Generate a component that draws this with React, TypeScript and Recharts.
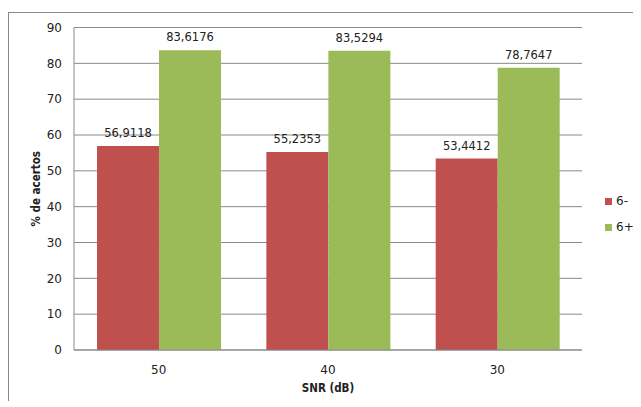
import React from 'react';
import {
  BarChart,
  Bar,
  CartesianGrid,
  XAxis,
  YAxis,
  Label,
  LabelList,
} from 'recharts';

const snrLevels = ['50', '40', '30'];
const lowScores = [56.9118, 55.2353, 53.4412];
const highScores = [83.6176, 83.5294, 78.7647];
const yTicks = [0, 10, 20, 30, 40, 50, 60, 70, 80, 90];

const series = [
  { key: 'low', name: '6-', color: '#C0504D' },
  { key: 'high', name: '6+', color: '#9BBB59' },
];

const data = snrLevels.map((snr, i) => ({
  snr,
  low: lowScores[i],
  high: highScores[i],
}));

const FONT = '"DejaVu Sans", Verdana, sans-serif';
const GRID = '#898989';

const fmt = (v: any) => String(v).replace('.', ',');

function YTitle(props: any) {
  const vb = props.viewBox || {};
  const x = vb.x + 7;
  const y = vb.y + vb.height / 2;
  return (
    <text
      x={x}
      y={y}
      transform={`rotate(-90 ${x} ${y})`}
      textAnchor="middle"
      dominantBaseline="central"
      fontFamily='"DejaVu Sans Condensed", "DejaVu Sans", sans-serif'
      fontWeight="bold"
      fontSize={11.5}
      fill="#222"
    >
      % de acertos
    </text>
  );
}

// legend sits to the right of the plot, like the excel one
function LegendBox() {
  return (
    <div
      style={{
        position: 'absolute',
        left: 596,
        top: 181,
        fontFamily: FONT,
        fontSize: 12,
        color: '#222',
      }}
    >
      {series.map((s) => (
        <div
          key={s.key}
          style={{ display: 'flex', alignItems: 'center', height: 14, marginBottom: 12 }}
        >
          <span
            style={{ width: 7, height: 7, background: s.color, marginRight: 4, display: 'inline-block' }}
          />
          <span>{s.name}</span>
        </div>
      ))}
    </div>
  );
}

export default function App() {
  return (
    <>
      <style>{'body{overflow:hidden}'}</style>
      <div
        style={{
          position: 'relative',
          top: 4,
          width: 640,
          height: 392,
          borderTop: `1px solid ${GRID}`,
          borderLeft: `1px solid ${GRID}`,
          background: '#fff',
        }}
      >
        <BarChart
          width={632}
          height={392}
          data={data}
          margin={{ top: 14.5, right: 59, left: 20, bottom: 12 }}
          barCategoryGap="13.6%"
          barGap={0}
          style={{ fontFamily: FONT }}
        >
          <CartesianGrid vertical={false} stroke={GRID} strokeWidth={1} />
          <XAxis
            dataKey="snr"
            height={43}
            tickLine={false}
            tickMargin={9}
            axisLine={{ stroke: GRID }}
            tick={{ fill: '#222', fontSize: 12 }}
          >
            <Label
              value="SNR (dB)"
              position="insideBottom"
              offset={1}
              style={{
                fontFamily: '"DejaVu Sans Condensed", "DejaVu Sans", sans-serif',
                fontWeight: 'bold',
                fontSize: 11.5,
                fill: '#222',
              }}
            />
          </XAxis>
          <YAxis
            width={45}
            domain={[0, 90]}
            ticks={yTicks}
            interval={0}
            tickLine={false}
            tickMargin={6}
            axisLine={{ stroke: GRID }}
            tick={{ fill: '#222', fontSize: 12 }}
          >
            <Label content={<YTitle />} />
          </YAxis>
          {series.map((s) => (
            <Bar key={s.key} dataKey={s.key} name={s.name} fill={s.color} isAnimationActive={false}>
              <LabelList
                dataKey={s.key}
                position="top"
                offset={9}
                formatter={fmt}
                style={{ fill: '#222', fontSize: 11.5 }}
              />
            </Bar>
          ))}
        </BarChart>
        <LegendBox />
      </div>
    </>
  );
}
